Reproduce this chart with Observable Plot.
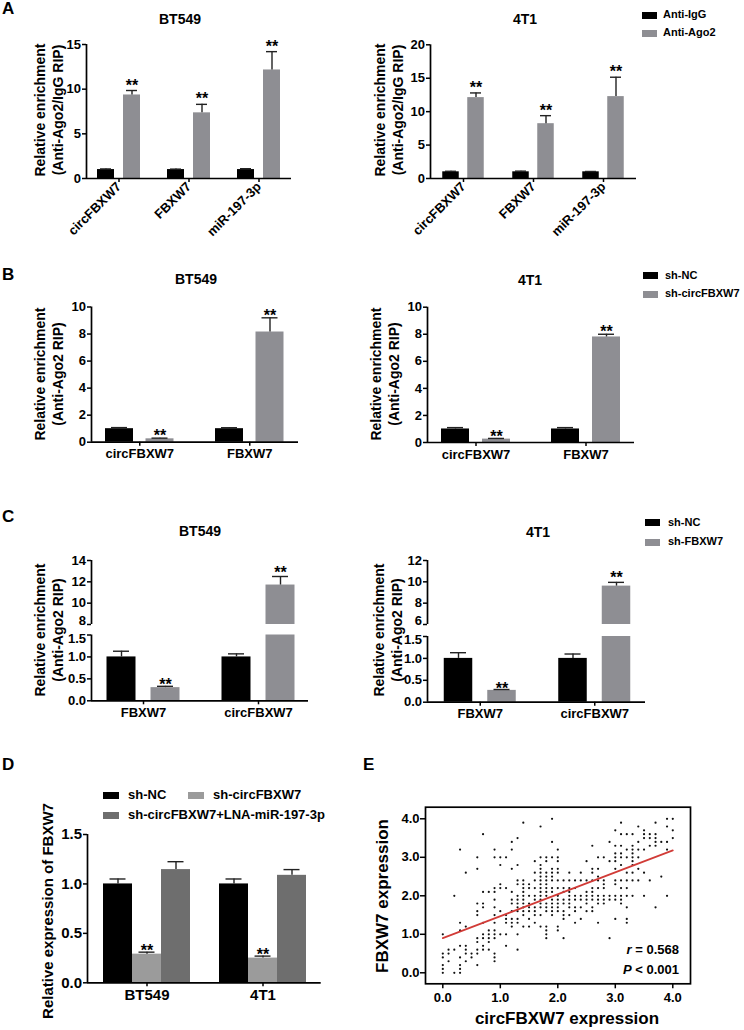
<!DOCTYPE html>
<html><head><meta charset="utf-8">
<script src="https://cdn.jsdelivr.net/npm/d3@7"></script>
<script src="https://cdn.jsdelivr.net/npm/@observablehq/plot@0.6"></script>
<style>
body{margin:0;background:#fff;}
#fig{position:relative;width:744px;height:1030px;font-family:"Liberation Sans",Arial,sans-serif;font-weight:bold;color:#000;overflow:hidden;background:#fff;}
#fig svg{position:absolute;left:0;top:0;}
.t{position:absolute;white-space:nowrap;line-height:1.25;text-align:center;}
.sw{position:absolute;}
</style></head><body><div id="fig"></div><script>
// ---------- DATA ----------
// Panel A
const groupsA = ["circFBXW7", "FBXW7", "miR-197-3p"];
const seriesA = ["Anti-IgG", "Anti-Ago2"];
const aBT_IgG = [1.0, 1.0, 1.0];
const aBT_IgGErr = [1.07, 1.05, 1.1];
const aBT_Ago2 = [9.35, 7.35, 12.15];
const aBT_Ago2Err = [9.85, 8.3, 14.2];
const a4T_IgG = [1.0, 1.0, 1.0];
const a4T_IgGErr = [1.08, 1.1, 1.05];
const a4T_Ago2 = [12.1, 8.2, 12.25];
const a4T_Ago2Err = [12.8, 9.4, 15.15];
const aSig = [1, 1, 1];
// Panel B
const groupsB = ["circFBXW7", "FBXW7"];
const seriesB = ["sh-NC", "sh-circFBXW7"];
const bBT_NC = [1.0, 1.0];
const bBT_NCErr = [1.08, 1.07];
const bBT_sh = [0.25, 8.15];
const bBT_shErr = [0.3, 9.2];
const b4T_NC = [1.0, 1.0];
const b4T_NCErr = [1.1, 1.1];
const b4T_sh = [0.25, 7.8];
const b4T_shErr = [0.3, 8.0];
const bSig = [1, 1];
// Panel C
const groupsC = ["FBXW7", "circFBXW7"];
const seriesC = ["sh-NC", "sh-FBXW7"];
const cBT_NC = [1.0, 1.0];
const cBT_NCErr = [1.13, 1.07];
const cBT_sh = [0.3, 11.7];
const cBT_shErr = [0.33, 12.5];
const c4T_NC = [1.0, 1.0];
const c4T_NCErr = [1.13, 1.1];
const c4T_sh = [0.27, 9.6];
const c4T_shErr = [0.29, 9.95];
const cSig = [1, 1];
// Panel D
const groupsD = ["BT549", "4T1"];
const seriesD = ["sh-NC", "sh-circFBXW7", "sh-circFBXW7+LNA-miR-197-3p"];
const dNC = [1.0, 1.0];
const dNCErr = [1.05, 1.05];
const dSh = [0.29, 0.25];
const dShErr = [0.31, 0.27];
const dLNA = [1.145, 1.087];
const dLNAErr = [1.225, 1.145];
const dSig = [1, 1];
// Panel E : circFBXW7 expression (column) and FBXW7 expression values in that column
const scatterX = [0.0,0.1,0.2,0.3,0.4,0.5,0.6,0.7,0.8,0.9,1.0,1.1,1.2,1.3,1.4,1.5,1.6,1.7,1.8,1.9,2.0,
  2.1,2.2,2.3,2.4,2.5,2.6,2.7,2.8,2.9,3.0,3.1,3.2,3.3,3.4,3.5,3.6,3.7,3.8,3.9,4.0];
const scatterY = [
 [0.0,0.1,0.2,0.4,0.5,1.0],
 [0.3,0.5,0.6],
 [0.0,0.6,2.0],
 [0.0,0.1,0.2,0.4,0.7,1.1,1.3,3.2],
 [0.3,0.5,0.6,0.7,1.2,2.6],
 [0.4,0.5],
 [0.2,0.5,0.6,0.8,0.9,1.5,1.6,1.8,2.7,3.0],
 [0.6,0.7,0.9,1.0,1.3,1.7,1.8,2.1,3.6],
 [0.6,0.8,0.9,1.0,1.1,2.1],
 [0.3,0.4,0.5,0.9,1.0,1.1,1.3,1.5,1.7,1.9,2.1,2.2,3.0,3.2],
 [1.0,1.6,2.2,2.3,2.8,3.0],
 [0.7,1.0,1.3,1.4,1.5,2.2,3.0],
 [1.2,1.3,1.4,1.6,1.8,1.9,2.1,2.7,3.2,3.4],
 [0.6,1.0,1.3,1.4,1.6,1.7,1.8,1.9,2.0,2.3,2.4,2.8,3.5],
 [1.2,1.5,1.6,1.7,1.8,1.9,2.0,2.1,2.2,2.3,2.4,3.9],
 [1.2,1.4,1.6,1.7,1.8,2.0,2.2,2.3],
 [1.3,1.5,1.6,1.7,1.9,2.0,2.2,2.4,2.6,2.9],
 [1.2,1.5,1.7,1.8,1.9,2.0,2.1,2.2,2.3,2.4,2.5,2.6,2.7,2.8,3.0,3.8],
 [0.9,1.0,1.1,1.2,1.6,1.7,1.8,2.0,2.1,2.2,2.3,2.4,2.5,2.6,2.9,3.0],
 [1.5,1.6,1.7,1.8,1.9,2.1,2.2,2.4,2.5,2.6,2.7,3.0,3.4,4.0],
 [1.1,1.2,1.6,1.7,1.8,1.9,2.0,2.2,2.4,2.6,2.7,2.9,3.0,3.2],
 [0.9,1.4,1.5,1.6,1.8,1.9,2.1,2.2,2.4],
 [1.5,1.7,1.8,1.9,2.0,2.1,2.2,2.4,2.6],
 [1.3,1.6,1.7,1.9,2.0,2.2,2.4],
 [1.4,1.7,1.9,2.0,2.4,2.6],
 [1.6,1.8,1.9,2.0,2.1,2.4,2.9],
 [1.6,1.7,1.9,2.0,2.1,2.2,2.4,2.6,2.7,3.3],
 [1.3,1.8,1.9,2.0,2.2,2.4,2.5,2.7,3.0],
 [1.8,1.9,2.0,2.2,2.3,2.4,3.0],
 [0.9,1.9,2.0,2.9,3.4],
 [1.4,1.9,2.0,2.3,2.4,2.7,2.9,3.0,3.1,3.3,3.7],
 [1.8,1.9,2.0,2.2,2.4,2.8,3.0,3.1,3.3,3.6,3.9],
 [1.3,1.4,1.7,2.0,2.2,2.4,2.6,3.0,3.2,3.6],
 [2.0,2.4,2.6,2.8,2.9,3.0,3.1,3.2,3.3,3.6],
 [2.4,2.7,3.0,3.2,3.4,3.8],
 [2.0,2.6,3.2,3.5,3.6,3.7],
 [2.4,3.3,3.5,3.6],
 [1.7,3.3,3.4,3.5,3.6,3.9],
 [2.5,3.4],
 [2.0,3.2,3.4,3.8,4.0],
 [3.5,3.7,4.0]
];
const fitX = [0.0, 4.0];
const fitY = [0.9, 3.18];
const statR = "0.568";
const statP = "0.001";

// ---------- STYLE / LAYOUT ----------
const W = 744, H = 1030;
const BLACK = "#000000", GREY = "#8e8e93", LGREY = "#9b9b9b", DGREY = "#6e6e6e";
const fig = document.getElementById("fig");
const FONT = '"Liberation Sans", Arial, sans-serif';

function addText(html, x, y, {size = 14, anchor = "middle", rotate = 0, italic = false} = {}) {
  const d = document.createElement("div");
  d.className = "t";
  d.innerHTML = html;
  d.style.left = x + "px";
  d.style.top = y + "px";
  d.style.fontSize = size + "px";
  if (italic) d.style.fontStyle = "italic";
  const tx = anchor === "start" ? "0" : anchor === "end" ? "-100%" : "-50%";
  d.style.transform = `translate(${tx},-50%)` + (rotate ? ` rotate(${rotate}deg)` : "");
  if (anchor === "end") d.style.textAlign = "right";
  fig.appendChild(d);
}
function addSwatch(x, yc, w, h, color) {
  const d = document.createElement("div");
  d.className = "sw";
  d.style.left = x + "px"; d.style.top = (yc - h / 2) + "px";
  d.style.width = w + "px"; d.style.height = h + "px"; d.style.background = color;
  fig.appendChild(d);
}

function barPanel(groups, series, L) {
  const n = groups.length;
  const xd = [(L.left - L.c0) / L.step, (L.right - L.c0) / L.step];
  const fmt = L.fmt || (d => String(d));
  const marks = [];
  series.forEach((s, j) => {
    const off = L.offsets[j] / L.step, hw = L.barW / 2 / L.step, cw = (L.capW || 14) / 2 / L.step;
    const rows = groups.map((g, i) => ({x: i + off, v: s.values[i], e: s.errors[i], sig: s.sig ? s.sig[i] : 0}));
    const shown = rows.filter(r => r.v > L.ymin);
    marks.push(Plot.rectY(shown, {x1: r => r.x - hw, x2: r => r.x + hw, y1: L.ymin, y2: r => Math.min(r.v, L.ymax), fill: s.color}));
    const errs = rows.filter(r => r.v >= L.ymin && r.e <= L.ymax + 1e-9);
    marks.push(Plot.ruleX(errs, {x: "x", y1: "v", y2: "e", stroke: "#222", strokeWidth: 1.4}));
    marks.push(Plot.ruleY(errs, {y: "e", x1: r => r.x - cw, x2: r => r.x + cw, stroke: "#222", strokeWidth: 1.4}));
    marks.push(Plot.text(errs.filter(r => r.sig), {x: "x", y: "e", text: () => "**", dy: L.starDy, fontSize: 16}));
  });
  if (L.xAxis !== false) {
    marks.push(Plot.ruleY([L.ymin], {stroke: BLACK, strokeWidth: 1.7}));
    marks.push(Plot.axisX({ticks: d3.range(n), tickFormat: i => groups[i], tickSize: 4, tickPadding: L.xPad ?? 3,
      tickRotate: L.rotate || 0, fontSize: L.xFont || 13, strokeWidth: 1.5, label: null}));
  }
  marks.push(Plot.ruleX([xd[0]], {y1: L.ymin, y2: L.ymax, stroke: BLACK, strokeWidth: 1.7}));
  // y ticks, then y tick labels (some labels nudged away from the axis break)
  marks.push(Plot.axisY({ticks: L.ticks, tickFormat: () => "", tickSize: 4, tickPadding: 1, strokeWidth: 1.5, label: null}));
  const shifts = L.shifts || {};
  for (const [dy, ts] of d3.group(L.ticks, t => shifts[t] || 0)) {
    marks.push(Plot.text(ts, {x: xd[0], y: d => d, text: d => fmt(d), textAnchor: "end", dx: -5.5, dy, fontSize: L.yFont || 13}));
  }
  const svg = Plot.plot({
    width: W, height: H,
    marginLeft: L.left, marginRight: W - L.right, marginTop: L.top, marginBottom: H - L.bottom,
    x: {domain: xd, axis: null, label: null},
    y: {domain: [L.ymin, L.ymax], axis: null, label: null},
    style: {background: "transparent", fontFamily: FONT, fontWeight: "bold", fontSize: "13px", color: "#000", overflow: "visible"},
    marks
  });
  fig.appendChild(svg);
}

const f1 = d3.format(".1f");

// ---------- PANEL A ----------
addText("A", 2, 9, {size: 17, anchor: "start"});
addText("BT549", 180, 20, {size: 14});
addText("4T1", 525, 20, {size: 14});
addText("Relative enrichment<br>(Anti-Ago2/IgG RIP)", 49, 110, {size: 14, rotate: -90});
addText("Relative enrichment<br>(Anti-Ago2/IgG RIP)", 389, 110, {size: 14, rotate: -90});
barPanel(groupsA, [
  {values: aBT_IgG, errors: aBT_IgGErr, color: BLACK},
  {values: aBT_Ago2, errors: aBT_Ago2Err, color: GREY, sig: aSig}
], {left: 86, right: 291, top: 44, bottom: 178, ymin: 0, ymax: 15, ticks: [0, 5, 10, 15],
   c0: 118.5, step: 70, offsets: [-13, 13], barW: 17, capW: 11, rotate: -45, xFont: 13, xPad: 2, starDy: -5});
barPanel(groupsA, [
  {values: a4T_IgG, errors: a4T_IgGErr, color: BLACK},
  {values: a4T_Ago2, errors: a4T_Ago2Err, color: GREY, sig: aSig}
], {left: 430, right: 636, top: 44.3, bottom: 178, ymin: 0, ymax: 20, ticks: [0, 5, 10, 15, 20],
   c0: 463, step: 70, offsets: [-12.5, 12.5], barW: 16.5, capW: 11, rotate: -45, xFont: 13, xPad: 2, starDy: -5});
addSwatch(642, 15, 15, 7, BLACK); addText(seriesA[0], 663, 15, {size: 11, anchor: "start"});
addSwatch(642, 33, 15, 7, GREY); addText(seriesA[1], 663, 33, {size: 11, anchor: "start"});

// ---------- PANEL B ----------
addText("B", 2, 275, {size: 17, anchor: "start"});
addText("BT549", 196, 280, {size: 14});
addText("4T1", 530, 281, {size: 14});
addText("Relative enrichment<br>(Anti-Ago2 RIP)", 48.5, 374, {size: 14, rotate: -90});
addText("Relative enrichment<br>(Anti-Ago2 RIP)", 385, 374, {size: 14, rotate: -90});
barPanel(groupsB, [
  {values: bBT_NC, errors: bBT_NCErr, color: BLACK},
  {values: bBT_sh, errors: bBT_shErr, color: GREY, sig: bSig}
], {left: 91, right: 298, top: 306.5, bottom: 441.7, ymin: 0, ymax: 10, ticks: [0, 2, 4, 6, 8, 10],
   c0: 139.25, step: 110, offsets: [-20.25, 20.25], barW: 28, capW: 16, starDy: -2});
barPanel(groupsB, [
  {values: b4T_NC, errors: b4T_NCErr, color: BLACK},
  {values: b4T_sh, errors: b4T_shErr, color: GREY, sig: bSig}
], {left: 427, right: 634, top: 306.7, bottom: 442, ymin: 0, ymax: 10, ticks: [0, 2, 4, 6, 8, 10],
   c0: 475.5, step: 110, offsets: [-20.5, 20.5], barW: 28, capW: 16, starDy: -2});
addSwatch(643, 275.7, 15, 7, BLACK); addText(seriesB[0], 665, 275.7, {size: 11, anchor: "start"});
addSwatch(643, 294, 15, 7, GREY); addText(seriesB[1], 665, 294, {size: 11, anchor: "start"});

// ---------- PANEL C ----------
addText("C", 2, 517, {size: 17, anchor: "start"});
addText("BT549", 200, 532, {size: 14});
addText("4T1", 538, 533, {size: 14});
addText("Relative enrichment<br>(Anti-Ago2 RIP)", 49, 630, {size: 14, rotate: -90});
addText("Relative enrichment<br>(Anti-Ago2 RIP)", 388, 630, {size: 14, rotate: -90});
const cBTser = [
  {values: cBT_NC, errors: cBT_NCErr, color: BLACK},
  {values: cBT_sh, errors: cBT_shErr, color: GREY, sig: cSig}
];
const cBTbase = {left: 91, right: 308, c0: 143, step: 115, offsets: [-22, 22], barW: 29, capW: 16};
barPanel(groupsC, cBTser, {...cBTbase, top: 560, bottom: 624, ymin: 8, ymax: 14, ticks: [8, 10, 12, 14], shifts: {8: -3.5}, xAxis: false, starDy: -4});
barPanel(groupsC, cBTser, {...cBTbase, top: 634.5, bottom: 700.3, ymin: 0, ymax: 1.5, ticks: [0, 0.5, 1, 1.5], shifts: {1.5: 3.5}, fmt: f1, starDy: -1});
const c4Tser = [
  {values: c4T_NC, errors: c4T_NCErr, color: BLACK},
  {values: c4T_sh, errors: c4T_shErr, color: GREY, sig: cSig}
];
const c4Tbase = {left: 427, right: 645, c0: 479.75, step: 114.5, offsets: [-21.75, 21.75], barW: 28.5, capW: 16};
barPanel(groupsC, c4Tser, {...c4Tbase, top: 560, bottom: 624, ymin: 6, ymax: 12, ticks: [6, 8, 10, 12], shifts: {6: -3.5}, xAxis: false, starDy: -4});
barPanel(groupsC, c4Tser, {...c4Tbase, top: 636, bottom: 701.7, ymin: 0, ymax: 1.5, ticks: [0, 0.5, 1, 1.5], shifts: {1.5: 3.5}, fmt: f1, starDy: -1});
addSwatch(645, 522.7, 15, 7, BLACK); addText(seriesC[0], 668, 522.7, {size: 11, anchor: "start"});
addSwatch(645, 542.3, 15, 7, GREY); addText(seriesC[1], 668, 542.3, {size: 11, anchor: "start"});

// ---------- PANEL D ----------
addText("D", 2, 765, {size: 17, anchor: "start"});
addSwatch(103, 795, 16, 7, BLACK); addText(seriesD[0], 128, 795, {size: 13, anchor: "start"});
addSwatch(188, 795, 16, 7, LGREY); addText(seriesD[1], 213, 795, {size: 13, anchor: "start"});
addSwatch(103, 815, 16, 7, DGREY); addText(seriesD[2], 128, 815, {size: 13, anchor: "start"});
addText("Relative expression of FBXW7", 48, 911, {size: 15, rotate: -90});
barPanel(groupsD, [
  {values: dNC, errors: dNCErr, color: BLACK},
  {values: dSh, errors: dShErr, color: LGREY, sig: dSig},
  {values: dLNA, errors: dLNAErr, color: DGREY}
], {left: 87, right: 320.7, top: 834, bottom: 982.3, ymin: 0, ymax: 1.5, ticks: [0, 0.5, 1, 1.5], fmt: f1,
   c0: 146.5, step: 116, offsets: [-29, 0, 29], barW: 29, capW: 16, yFont: 15, xFont: 15, starDy: -1});

// ---------- PANEL E ----------
addText("E", 363, 765, {size: 17, anchor: "start"});
const pts = scatterX.flatMap((x, i) => scatterY[i].map(y => ({x, y})));
const fit = fitX.map((x, i) => ({x, y: fitY[i]}));
const E = {left: 425, right: 690, top: 806.7, bottom: 983.3};
fig.appendChild(Plot.plot({
  width: W, height: H,
  marginLeft: E.left, marginRight: W - E.right, marginTop: E.top, marginBottom: H - E.bottom,
  x: {domain: [-0.301, 4.308], axis: null, label: null},
  y: {domain: [-0.286, 4.301], axis: null, label: null},
  style: {background: "transparent", fontFamily: FONT, fontWeight: "bold", fontSize: "13px", color: "#000", overflow: "visible"},
  marks: [
    Plot.dot(pts, {x: "x", y: "y", r: 1.1, fill: "#111", stroke: null}),
    Plot.line(fit, {x: "x", y: "y", stroke: "#d13b37", strokeWidth: 1.7}),
    Plot.frame({stroke: BLACK, strokeWidth: 1.7}),
    Plot.axisX({ticks: [0, 1, 2, 3, 4], tickFormat: f1, tickSize: 5, tickPadding: 4, fontSize: 13, strokeWidth: 1.5, label: null}),
    Plot.axisY({ticks: [0, 1, 2, 3, 4], tickFormat: f1, tickSize: 5, tickPadding: 1, fontSize: 13, strokeWidth: 1.5, label: null})
  ]
}));
addText("FBXW7 expression", 383, 896, {size: 17, rotate: -90});
addText("circFBXW7 expression", 567, 1019, {size: 17});
addText(`<i>r</i> = ${statR}`, 679, 950, {size: 13, anchor: "end"});
addText(`<i>P</i> &lt; ${statP}`, 679, 970, {size: 13, anchor: "end"});
</script></body></html>
